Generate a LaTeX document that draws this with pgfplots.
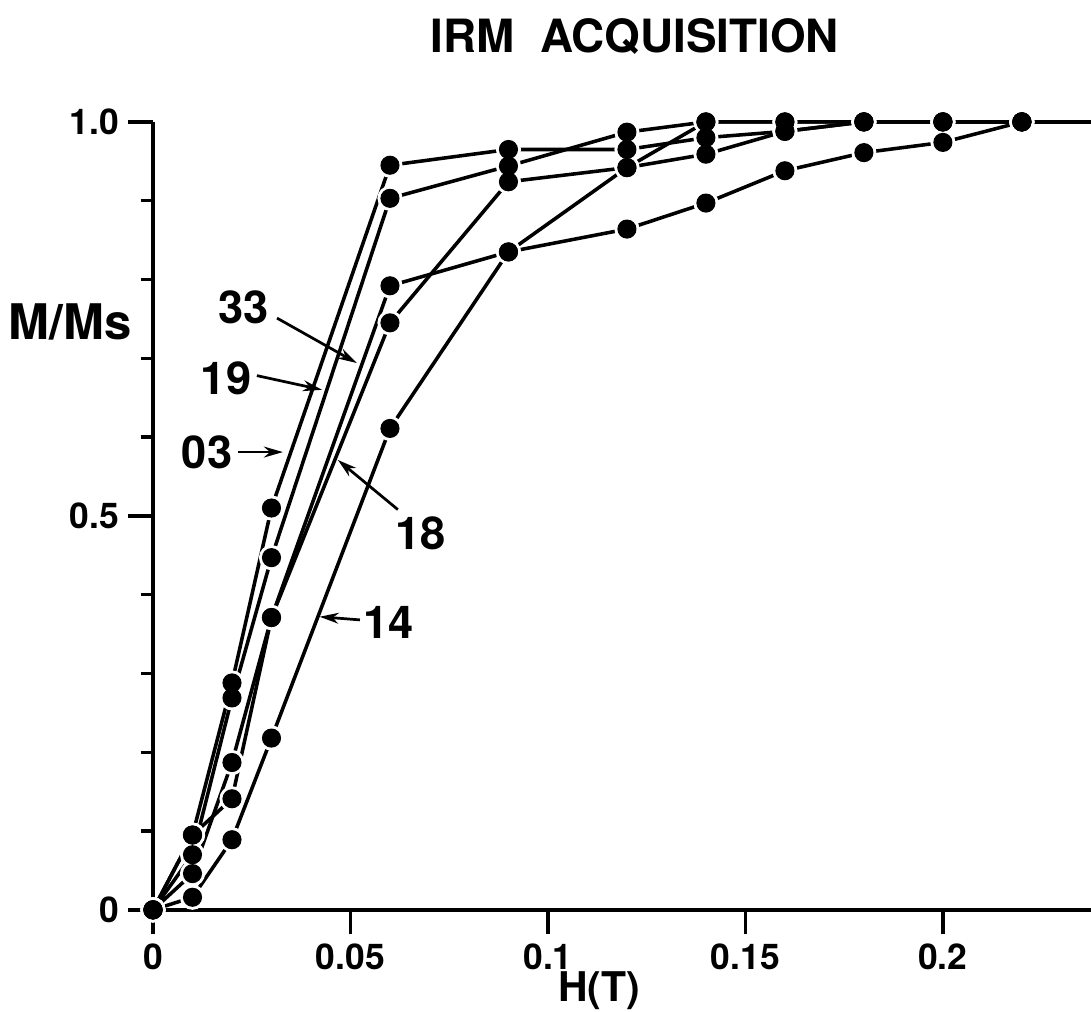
\documentclass[border=0pt]{standalone}
\usepackage{fontspec}
\setmainfont{TeX Gyre Heros}
\usepackage{pgfplots}
\usepackage{pgfplotstable}
\pgfplotsset{compat=1.18}
\usetikzlibrary{arrows.meta}

% sample 03
\pgfplotstableread{
h m
0 0
0.01 0.095
0.02 0.288
0.03 0.510
0.06 0.945
0.09 0.965
0.12 0.965
0.14 0.980
0.16 0.988
0.18 1.000
0.20 1.000
0.22 1.000
}\sOthree
% sample 19
\pgfplotstableread{
h m
0 0
0.01 0.070
0.02 0.269
0.03 0.447
0.06 0.903
0.09 0.944
0.12 0.987
0.14 1.000
0.16 1.000
0.18 1.000
0.20 1.000
0.22 1.000
}\sNineteen
% sample 33
\pgfplotstableread{
h m
0 0
0.01 0.046
0.02 0.187
0.03 0.371
0.06 0.792
0.09 0.835
0.12 0.864
0.14 0.897
0.16 0.938
0.18 0.961
0.20 0.974
0.22 1.000
}\sThirtythree
% sample 18
\pgfplotstableread{
h m
0 0
0.01 0.095
0.02 0.141
0.03 0.371
0.06 0.745
0.09 0.924
0.12 0.942
0.14 0.959
0.16 0.988
0.18 1.000
0.20 1.000
0.22 1.000
}\sEighteen
% sample 14
\pgfplotstableread{
h m
0 0
0.01 0.016
0.02 0.089
0.03 0.218
0.06 0.611
0.09 0.835
0.12 0.942
0.14 1.000
0.16 1.000
0.18 1.000
0.20 1.000
0.22 1.000
}\sFourteen
% tail past the last field step
\pgfplotstableread{
h m
0.22 1.000
0.2375 1.000
}\sTail

\pgfplotsset{
  curve/.style={black, line width=1.3pt, no markers},
  halo/.style={only marks, mark=*, mark size=4.4pt, mark options={fill=white, draw=white}},
  dot/.style={only marks, mark=*, mark size=3.3pt, mark options={fill=black, draw=black}},
}
\newcommand{\lab}{\fontsize{16.6}{16.6}\selectfont\bfseries}
\tikzset{ptr/.style={line width=1pt, -{Stealth[length=7pt, width=4pt]}}}

\begin{document}
\begin{tikzpicture}
\begin{axis}[
  name=ax,
  scale only axis, width=343.9pt, height=288.9pt,
  xmin=0, xmax=0.2375, ymin=0, ymax=1,
  axis lines=left, axis line style={-, line width=1.6pt},
  clip=false,
  xtick={0,0.05,0.1,0.15,0.2}, xticklabels={0,0.05,0.1,0.15,0.2},
  ytick={0,0.5,1}, yticklabels={0,0.5,1.0},
  minor ytick={0.1,0.2,0.3,0.4,0.6,0.7,0.8,0.9},
  tick align=outside,
  major tick length=9pt, minor tick length=4.5pt,
  tick style={line width=1.2pt, black},
  ticklabel style={font=\fontsize{13}{13}\selectfont\bfseries},
]
% lines first
\addplot[curve] table[x=h, y=m] {\sOthree};
\addplot[curve] table[x=h, y=m] {\sNineteen};
\addplot[curve] table[x=h, y=m] {\sThirtythree};
\addplot[curve] table[x=h, y=m] {\sEighteen};
\addplot[curve] table[x=h, y=m] {\sFourteen};
\addplot[curve] table[x=h, y=m] {\sTail};
% white gaps round the dots
\addplot[halo] table[x=h, y=m] {\sOthree};
\addplot[halo] table[x=h, y=m] {\sNineteen};
\addplot[halo] table[x=h, y=m] {\sThirtythree};
\addplot[halo] table[x=h, y=m] {\sEighteen};
\addplot[halo] table[x=h, y=m] {\sFourteen};
% dots
\addplot[dot] table[x=h, y=m] {\sOthree};
\addplot[dot] table[x=h, y=m] {\sNineteen};
\addplot[dot] table[x=h, y=m] {\sThirtythree};
\addplot[dot] table[x=h, y=m] {\sEighteen};
\addplot[dot] table[x=h, y=m] {\sFourteen};

% sample labels with pointers
\node[font=\lab] at (0.0230,0.765) {33};
\draw[ptr] (0.0314,0.751) -- (0.0516,0.694);
\node[font=\lab] at (0.0185,0.675) {19};
\draw[ptr] (0.0263,0.678) -- (0.0428,0.660);
\node[font=\lab] at (0.0137,0.581) {03};
\draw[ptr] (0.0215,0.581) -- (0.0329,0.581);
\node[font=\lab] at (0.0678,0.478) {18};
\draw[ptr] (0.0620,0.508) -- (0.0468,0.571);
\node[font=\lab] at (0.0597,0.365) {14};
\draw[ptr] (0.0524,0.368) -- (0.0422,0.372);

\node[font=\fontsize{16.8}{16.8}\selectfont\bfseries] at (0.122,1.109) {IRM\ \ ACQUISITION};
\node[font=\fontsize{18}{18}\selectfont\bfseries] at (-0.021,0.746) {M/Ms};
\node[font=\fontsize{15}{15}\selectfont\bfseries] at (0.113,-0.102) {H(T)};
\end{axis}
\pgfresetboundingbox
\useasboundingbox ([xshift=-56.1pt, yshift=-37.4pt]ax.south west) rectangle ([yshift=44.7pt]ax.north east);
\end{tikzpicture}
\end{document}
